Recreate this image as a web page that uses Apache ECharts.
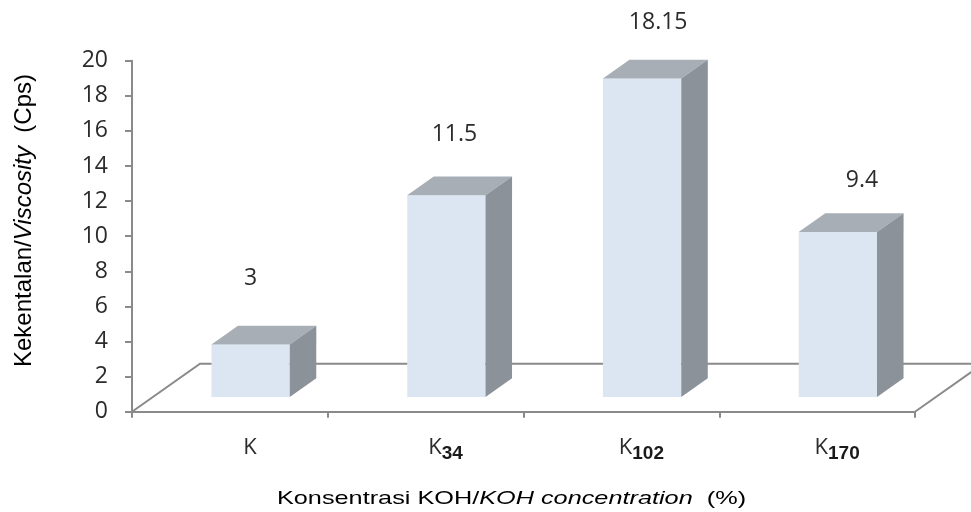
<!DOCTYPE html>
<html>
<head>
<meta charset="utf-8">
<style>
  html, body { margin: 0; padding: 0; background: #ffffff; }
  #chart { width: 971px; height: 512px; }
</style>
<script src="https://cdn.jsdelivr.net/npm/echarts@6/dist/echarts.min.js"></script>
</head>
<body>
<div id="chart"></div>
<script>
// Viscosity per KOH concentration sample
const categories = ['K', 'K34', 'K102', 'K170'];
const subscripts = ['', '34', '102', '170'];
const viscosity = [3, 11.5, 18.15, 9.4];
const yTicks = { min: 0, max: 20, step: 2 };

// 3D look: floor depth offset and where each box sits within it
const FLOOR_DX = 68, FLOOR_DY = -48;
const BOX_FRONT = 0.305, BOX_BACK = 0.695;
const BOX_WIDTH = 0.4;

const FRONT_COLOR = '#dce6f2';
const TOP_COLOR = '#a7aeb6';
const SIDE_COLOR = '#8b9299';
const AXIS_COLOR = '#8a8a8a';
const NUM_FONT = 'Open Sans';
const NUM_COLOR = '#2b2b2b';

const chart = echarts.init(document.getElementById('chart'));

function catLabel(value, idx) {
  const sub = subscripts[idx];
  return sub ? '{k|K}{s|' + sub + '}' : '{k|K}';
}

function renderFloor(params, api) {
  const bw = api.size([1, 0])[0];
  const first = api.coord([0, 0]);
  const last = api.coord([categories.length - 1, 0]);
  const x0 = first[0] - bw / 2, x1 = last[0] + bw / 2, y0 = first[1];
  return {
    type: 'polyline',
    shape: { points: [[x0, y0], [x0 + FLOOR_DX, y0 + FLOOR_DY], [x1 + FLOOR_DX, y0 + FLOOR_DY], [x1, y0]] },
    style: { stroke: AXIS_COLOR, lineWidth: 2, fill: null }
  };
}

function renderBox(params, api) {
  const idx = api.value(0);
  const val = api.value(1);
  const top = api.coord([idx, val]);
  const base = api.coord([idx, 0]);
  const bw = api.size([1, 0])[0];
  const w = bw * BOX_WIDTH;
  const fx = top[0] - w / 2 + FLOOR_DX * BOX_FRONT;
  const fTop = top[1] + FLOOR_DY * BOX_FRONT;
  const fBot = base[1] + FLOOR_DY * BOX_FRONT;
  const ddx = FLOOR_DX * (BOX_BACK - BOX_FRONT);
  const ddy = FLOOR_DY * (BOX_BACK - BOX_FRONT);
  const cx = fx + w / 2;
  // value label floats above the box, drifting right across the plot
  const lx = cx + (cx - 251) * 0.041;
  const ly = fTop - 66 + (cx - 251) * 0.0245;
  return {
    type: 'group',
    children: [
      { type: 'rect', shape: { x: fx, y: fTop, width: w, height: fBot - fTop }, style: { fill: FRONT_COLOR } },
      { type: 'polygon', shape: { points: [[fx, fTop], [fx + w, fTop], [fx + w + ddx, fTop + ddy], [fx + ddx, fTop + ddy]] }, style: { fill: TOP_COLOR } },
      { type: 'polygon', shape: { points: [[fx + w, fTop], [fx + w, fBot], [fx + w + ddx, fBot + ddy], [fx + w + ddx, fTop + ddy]] }, style: { fill: SIDE_COLOR } },
      { type: 'text', x: lx, y: ly, style: { text: String(val), fontFamily: NUM_FONT, fontSize: 23, fill: NUM_COLOR, align: 'center', verticalAlign: 'middle' } }
    ]
  };
}

chart.setOption({
  animation: false,
  backgroundColor: '#ffffff',
  grid: { left: 132, right: 56, top: 60.7, bottom: 100.3 },
  xAxis: {
    type: 'category',
    data: categories,
    boundaryGap: true,
    axisLine: { show: true, lineStyle: { color: AXIS_COLOR, width: 2 } },
    axisTick: { show: true, interval: 0, length: 6, lineStyle: { color: AXIS_COLOR, width: 2 } },
    axisLabel: {
      interval: 0,
      margin: 20,
      padding: [0, 0, 0, 40],
      formatter: catLabel,
      rich: {
        k: { fontFamily: NUM_FONT, fontSize: 22, color: NUM_COLOR, lineHeight: 32, verticalAlign: 'middle' },
        s: { fontFamily: 'Liberation Sans', fontWeight: 'bold', fontSize: 19, color: '#1a1a1a', verticalAlign: 'bottom' }
      }
    },
    splitLine: { show: false }
  },
  yAxis: {
    type: 'value',
    min: yTicks.min,
    max: yTicks.max,
    interval: yTicks.step,
    axisLine: { show: true, lineStyle: { color: AXIS_COLOR, width: 2 } },
    axisTick: { show: true, length: 7, lineStyle: { color: AXIS_COLOR, width: 2 } },
    axisLabel: { margin: 24, fontFamily: NUM_FONT, fontSize: 23, color: NUM_COLOR },
    splitLine: { show: false }
  },
  graphic: [
    {
      type: 'text',
      x: 24, y: 220.5, rotation: Math.PI / 2,
      style: {
        text: 'Kekentalan/{i|Viscosity}  (Cps)',
        fontFamily: 'Liberation Sans', fontSize: 24, fill: '#000000',
        align: 'center', verticalAlign: 'middle',
        rich: { i: { fontFamily: 'Liberation Sans', fontSize: 24, fontStyle: 'italic', fill: '#000000' } }
      }
    },
    {
      type: 'text',
      x: 511.5, y: 499, scaleX: 1.33,
      style: {
        text: 'Konsentrasi KOH/{i|KOH concentration}  (%)',
        fontFamily: 'Liberation Sans', fontSize: 19, fill: '#000000',
        align: 'center', verticalAlign: 'middle',
        rich: { i: { fontFamily: 'Liberation Sans', fontSize: 19, fontStyle: 'italic', fill: '#000000' } }
      }
    }
  ],
  series: [
    { type: 'custom', name: 'floor', data: [[0, 0]], renderItem: renderFloor, z: 1, silent: true },
    { type: 'custom', name: 'viscosity', data: viscosity.map((v, i) => [i, v]), encode: { x: 0, y: 1 }, renderItem: renderBox, z: 2 }
  ]
});
</script>
</body>
</html>
